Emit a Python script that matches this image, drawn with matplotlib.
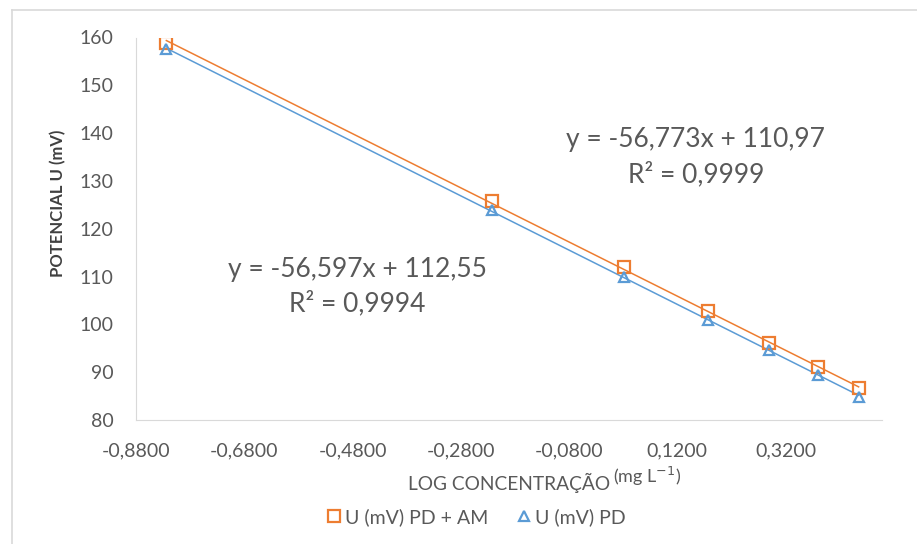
import numpy as np
import matplotlib.pyplot as plt
from matplotlib.lines import Line2D

plt.rcParams['font.family'] = ['Lato', 'DejaVu Sans']
plt.rcParams['mathtext.fontset'] = 'dejavusans'

# log concentration (x) and potential readings
log_conc = [-0.8239, -0.2218, 0.0212, 0.1761, 0.2900, 0.3802, 0.4548]
u_pd_am = [158.9, 125.9, 111.9, 102.8, 96.1, 91.0, 86.6]
u_pd = [157.5, 124.0, 109.9, 100.9, 94.6, 89.4, 84.9]

eq_pd_am = ["y = -56,597x + 112,55", "R\u00b2 = 0,9994"]
eq_pd = ["y = -56,773x + 110,97", "R\u00b2 = 0,9999"]

orange = "#ED7D31"
blue = "#5B9BD5"
txt = "#595959"

fig = plt.figure(figsize=(9.17, 5.44), dpi=100)
ax = fig.add_axes([136/917, 1-420/544, (882-136)/917, (420-37.5)/544])

x = np.array(log_conc)
xx = np.array([x.min(), x.max()])
for y, c in [(u_pd_am, orange), (u_pd, blue)]:
    m, b = np.polyfit(x, y, 1)
    ax.plot(xx, m*xx + b, color=c, lw=1.1, zorder=2)

ax.plot(x, u_pd_am, 's', ms=8, mfc='none', mec=orange, mew=1.6, zorder=3)
ax.plot(x, u_pd, '^', ms=7, mfc='none', mec=blue, mew=1.6, zorder=3)

ax.set_xlim(-0.88, 0.498)
ax.set_ylim(80, 160)
ax.set_xticks(np.arange(-0.88, 0.33, 0.2))
ax.set_xticklabels(["-0,8800", "-0,6800", "-0,4800", "-0,2800", "-0,0800", "0,1200", "0,3200"])
ax.set_yticks(range(80, 161, 10))
ax.tick_params(length=0, colors=txt, labelsize=14)
ax.tick_params(axis='y', pad=16)
ax.tick_params(axis='x', pad=16)
for s in ['top', 'right']:
    ax.spines[s].set_visible(False)
for s in ['left', 'bottom']:
    ax.spines[s].set_color('#d9d9d9')

# trendline labels
fig.text(357/917, 1-269/544, eq_pd_am[0], ha='center', va='center', fontsize=19, color=txt)
fig.text(357/917, 1-303/544, eq_pd_am[1], ha='center', va='center', fontsize=19, color=txt)
fig.text(695/917, 1-139/544, eq_pd[0], ha='center', va='center', fontsize=19, color=txt)
fig.text(696/917, 1-174/544, eq_pd[1], ha='center', va='center', fontsize=19, color=txt)

# axis titles
fig.text(58/917, 1-203/544, "POTENCIAL U (mV)", rotation=90, ha='center', va='center',
         fontsize=12, fontweight='bold', color='#404040')
fig.text(610/917, 1-483/544, "LOG CONCENTRAÇÃO", ha='right', va='center', fontsize=13.8, color=txt)
fig.text(613/917, 1-476/544, "(mg L$^{-1}$)", ha='left', va='center', fontsize=13, color=txt)

handles = [Line2D([], [], ls='none', marker='s', ms=8, mfc='none', mec=orange, mew=1.6),
           Line2D([], [], ls='none', marker='^', ms=7, mfc='none', mec=blue, mew=1.6)]
leg = fig.legend(handles, ["U (mV) PD + AM", "U (mV) PD"], loc='center', ncol=2,
                 bbox_to_anchor=(475/917, 1-517/544), frameon=False, fontsize=14,
                 handletextpad=0.1, columnspacing=1.3, handlelength=1.0)
for t in leg.get_texts():
    t.set_color(txt)

# chart border (left and top visible)
fig.add_artist(Line2D([12/917, 12/917], [0, 1-10/544], color='#d9d9d9', lw=1.2))
fig.add_artist(Line2D([12/917, 1], [1-10/544, 1-10/544], color='#d9d9d9', lw=1.2))

fig.savefig("out.png", dpi=100)
